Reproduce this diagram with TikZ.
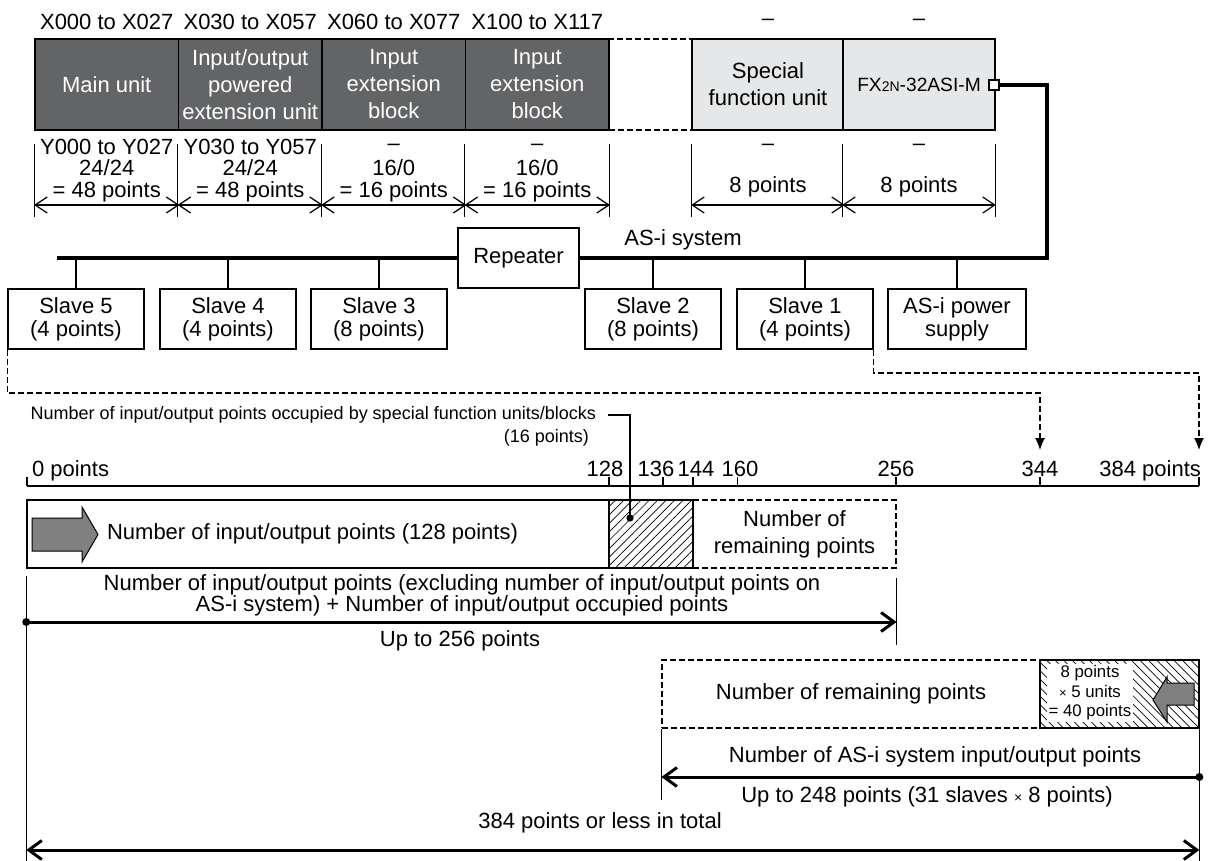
\documentclass[tikz,border=0pt]{standalone}
\usepackage{fontspec}
\setmainfont{Liberation Sans}
\usepackage{tikz}
\usetikzlibrary{arrows.meta, patterns.meta, calc}
\definecolor{UnitDark}{RGB}{99,100,102}
\definecolor{UnitLight}{RGB}{230,231,232}
\definecolor{ArrowGray}{RGB}{128,128,128}

\begin{document}
\begin{tikzpicture}[x=0.5pt, y=-0.5pt, font=\fontsize{11}{13.5}\selectfont,
  unitdark/.style={draw, line width=0.9pt, fill=UnitDark, text=white, minimum width=71.75pt, minimum height=45.5pt, align=center, inner sep=0pt},
  unitlight/.style={draw, line width=0.8pt, fill=UnitLight, minimum width=76pt, minimum height=45.5pt, align=center, inner sep=0pt},
  slavebox/.style={draw, line width=0.75pt, minimum width=68pt, minimum height=30pt, align=center, inner sep=0pt, font=\fontsize{11}{11.5}\selectfont},
  holdbox/.style={draw, dash pattern=on 3pt off 1.5pt, line width=0.6pt, minimum height=34pt, align=center, inner sep=0pt},
  hatchbox/.style={draw, line width=1pt, minimum height=34pt, inner sep=0pt},
  bus/.style={line width=2pt},
  stub/.style={line width=0.75pt},
  dimline/.style={line width=0.55pt},
  dimarrow/.style={line width=0.6pt, {Straight Barb[length=6pt,width=8pt]}-{Straight Barb[length=6pt,width=8pt]}},
  dashlink/.style={dash pattern=on 3pt off 1.5pt, line width=0.6pt, -{Latex[length=6pt,width=5pt]}},
  thickarrow/.style={line width=1.5pt, -{Straight Barb[length=6.5pt,width=9.5pt]}},
  totalarrow/.style={line width=1.5pt, {Straight Barb[length=6.5pt,width=9.5pt]}-{Straight Barb[length=6.5pt,width=9.5pt]}},
  fatarrow/.style={draw, line width=0.5pt, fill=ArrowGray}]
\useasboundingbox (0,0) rectangle (1221,861);

% units of the PLC
\node[unitdark] (main) at (106.75,84.5) {Main unit};
\node[unitdark] (iounit) at (250.25,84.5) {Input/output\\powered\\extension unit};
\node[unitdark] (inextA) at (393.75,84.5) {Input\\extension\\block};
\node[unitdark] (inextB) at (537.25,84.5) {Input\\extension\\block};
\node[holdbox, minimum width=41.5pt, minimum height=45.5pt] (gap) at (650.5,84.5) {};
\node[unitlight] (sfu) at (768,84.5) {Special\\function unit};
\node[unitlight, font=\fontsize{9.6}{11}\selectfont] (asim) at (919,84.5) {FX{\fontsize{7}{7}\selectfont 2N}-32ASI-M};
\node[draw, line width=1pt, fill=white, minimum size=5pt, inner sep=0pt] (port) at (994,85) {};

\foreach \n/\t in {main/X000 to X027, iounit/X030 to X057, inextA/X060 to X077, inextB/X100 to X117, sfu/--, asim/--}
  \node (x\n) at (\n.north |- 0,22) {\t};
\foreach \n/\t in {main/Y000 to Y027, iounit/Y030 to Y057, inextA/--, inextB/--, sfu/--, asim/--}
  \node (y\n) at (\n.south |- 0,147) {\t};

% occupied points
\foreach \n in {main,iounit,inextA,inextB,sfu,asim}{
  \draw[dimline] (\n.south west |- 0,144) -- (\n.south west |- 0,217);
  \draw[dimarrow] (\n.south west |- 0,205) -- (\n.south east |- 0,205);
}
\draw[dimline] (inextB.south east |- 0,144) -- (inextB.south east |- 0,217);
\draw[dimline] (asim.south east |- 0,144) -- (asim.south east |- 0,217);
\node[align=center, font=\fontsize{11}{11}\selectfont] (dmain) at (main.south |- 0,181) {24/24\\= 48 points};
\node[align=center, font=\fontsize{11}{11}\selectfont] (diounit) at (iounit.south |- 0,181) {24/24\\= 48 points};
\node[align=center, font=\fontsize{11}{11}\selectfont] (dinextA) at (inextA.south |- 0,181) {16/0\\= 16 points};
\node[align=center, font=\fontsize{11}{11}\selectfont] (dinextB) at (inextB.south |- 0,181) {16/0\\= 16 points};
\node (dsfu) at (sfu.south |- 0,187) {8 points};
\node (dasim) at (asim.south |- 0,187) {8 points};

% AS-i system
\node[slavebox, minimum width=60.5pt] (rep) at (518.5,258) {Repeater};
\coordinate (busL) at (57,258);
\coordinate (busR) at (1047,258);
\draw[bus] (port.east) -| (busR) -- (rep.east);
\draw[bus] (rep.west) -- (busL);
\node (asisys) at (683,240) {AS-i system};

\node[slavebox] (s5) at (76,319) {Slave 5\\(4 points)};
\node[slavebox] (s4) at (228,319) {Slave 4\\(4 points)};
\node[slavebox] (s3) at (379,319) {Slave 3\\(8 points)};
\node[slavebox] (s2) at (653,319) {Slave 2\\(8 points)};
\node[slavebox] (s1) at (805,319) {Slave 1\\(4 points)};
\node[slavebox, minimum width=69pt] (pwr) at (957,319) {AS-i power\\supply};
\foreach \n in {s5,s4,s3,s2,s1,pwr}
  \draw[stub] (\n.north) -- (\n.north |- busL);

% scale of points
\foreach \v/\x in {0/27,128/609,136/663,144/693,160/737.5,256/896,344/1040,384/1199}
  \coordinate (t\v) at (\x,486);
\draw[dimline] (t0) -- (t384);
\foreach \v in {0,128,136,144,160,256,344,384}
  \draw[dimline] (t\v) -- ++(0,-9);
\node[anchor=base west] (l0) at (25,476) {0 points};
\foreach \v/\x in {128/605,136/656,144/696,160/740,256/896,344/1040}
  \node[anchor=base] (l\v) at (\x,476) {\v};
\node[anchor=base east] (l384) at (1208,476) {384 points};

\coordinate (a344) at (1040,450);
\coordinate (a384) at (1199,450);
\draw[dashlink] (s5.south west) -- (s5.south west |- 0,393) -| (a344);
\draw[dashlink] (s1.south east) -- (s1.south east |- 0,373) -| (a384);

% input/output points
\node[draw, line width=0.75pt, minimum width=291pt, minimum height=34pt, inner sep=0pt] (io128) at (318,534) {};
\node[holdbox, minimum width=101.5pt] (remA) at (794.5,534) {Number of\\remaining points};
\node[hatchbox, pattern={Lines[angle=45,distance=3pt,line width=0.35pt]}, minimum width=42pt] (occ) at (651,534) {};
\draw[fatarrow] (32,518) -- (82,518) -- (82,507) -- (98,534.5) -- (82,562) -- (82,551) -- (32,551) -- cycle;
\node[anchor=west] (io128txt) at (100,534) {Number of input/output points (128 points)};

\node[anchor=east, font=\fontsize{9}{9}\selectfont] (occnote) at (603,415) {Number of input/output points occupied by special function units/blocks};
\node[anchor=east, font=\fontsize{9}{9}\selectfont] (occsub) at (596,438) {(16 points)};
\coordinate (occdot) at (630,518);
\draw[dimline] ([xshift=2.5pt]occnote.east) -| (occdot);
\fill (occdot) circle (1.8pt);

\draw[dimline] ([yshift=-3.5pt]io128.south west) -- (io128.south west |- 0,861);
\draw[dimline] ([yshift=-4.5pt]remA.south east) -- (remA.south east |- 0,645);
\node[align=center, font=\fontsize{11}{10.5}\selectfont] (exnote) at (462,595) {Number of input/output points (excluding number of input/output points on\\AS-i system) + Number of input/output occupied points};
\coordinate (dotA) at (io128.west |- 0,622);
\fill (dotA) circle (2pt);
\draw[thickarrow] (dotA) -- (remA.east |- 0,622);
\node (up256) at (460,641) {Up to 256 points};

% AS-i system points
\node[holdbox, minimum width=189pt] (remB) at (851,694) {Number of remaining points};
\node[hatchbox, pattern={Lines[angle=-45,distance=3pt,line width=0.35pt]}, minimum width=79.5pt] (asibox) at (1119.5,694) {};
\node[fill=white, inner sep=0.8pt, align=center, font=\fontsize{8.4}{9.8}\selectfont] (asitxt) at (1090,693) {8 points\\{\fontsize{6.5}{6.5}\selectfont ×} 5 units\\= 40 points};
\draw[fatarrow] (1153,700) -- (1167,677) -- (1167,683) -- (1194,683) -- (1194,705) -- (1167,705) -- (1167,722) -- cycle;

\draw[dimline] (remB.south west) -- (remB.south west |- 0,800);
\draw[dimline] (asibox.south east) -- (asibox.south east |- 0,861);
\node (asinote) at (935,757) {Number of AS-i system input/output points};
\coordinate (dotB) at (asibox.east |- 0,777);
\fill (dotB) circle (2pt);
\draw[thickarrow] (dotB) -- (remB.west |- 0,777);
\node (up248) at (927,797) {Up to 248 points (31 slaves {\fontsize{7}{7}\selectfont ×} 8 points)};
\node (total) at (600,823) {384 points or less in total};
\draw[totalarrow] (io128.west |- 0,850) -- (asibox.east |- 0,850);
\end{tikzpicture}
\end{document}
